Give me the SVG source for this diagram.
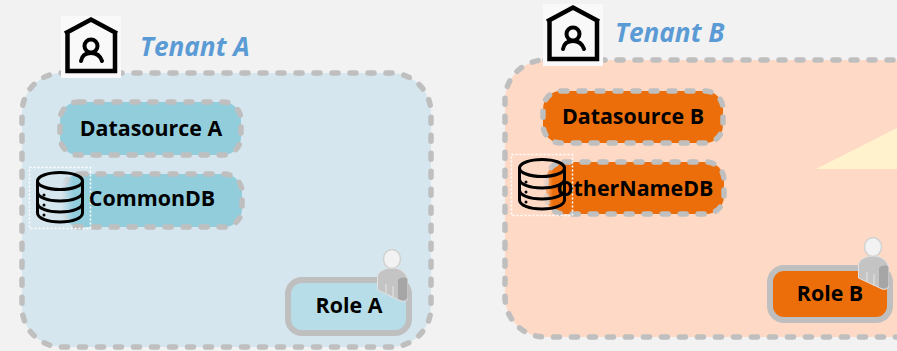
<svg xmlns="http://www.w3.org/2000/svg" width="897" height="351" viewBox="0 0 897 351">
<style>
.dash{stroke:#bfbfbf;stroke-width:5.500;stroke-dasharray:6 12;stroke-linecap:round}
.lbl{font-family:"Open Sans","Liberation Sans",sans-serif;font-weight:700;font-size:21.400px;fill:#000;text-anchor:middle}
.ten{font-family:"Open Sans","Liberation Sans",sans-serif;font-weight:700;font-style:italic;font-size:26.200px;fill:#5b9bd5}
.ic{fill:none;stroke:#000;stroke-linecap:round;stroke-linejoin:round}
.role{stroke:#bfbfbf;stroke-width:6}
</style>
<defs>
<linearGradient id="fadeA"><stop offset=".52" stop-color="#d5e6ee"/><stop offset=".72" stop-color="#d5e6ee" stop-opacity="0"/></linearGradient>
<linearGradient id="fadeB"><stop offset=".5" stop-color="#fedac6"/><stop offset=".68" stop-color="#fedac6" stop-opacity="0"/></linearGradient>
<g id="house">
<rect x="0" y="0" width="60" height="62" fill="#f9f9f9"/>
<path d="M4 17.500 L30 3.500 L56 17.500 M6.500 16 V55 H54 V16" fill="none" stroke="#000" stroke-width="4.500"/>
<circle class="ic" cx="30" cy="30" r="6.500" stroke-width="4"/>
<path class="ic" stroke-width="4" d="M20 45 C21 39 25 37 30 37 C35 37 39 39 41 45"/>
</g>
<g id="db">
<rect x="0.500" y="0.500" width="61" height="61" fill="none" stroke="#fff" stroke-width="1.500" stroke-dasharray="2 2"/>
<g class="ic" stroke-width="3">
<ellipse cx="31" cy="14" rx="22.500" ry="8.500"/>
<path d="M8.500 14 V46 C8.500 51 18 55 31 55 C44 55 53.500 51 53.500 46 V14"/>
<path d="M8.500 25 C8.500 30 18 34 31 34 C44 34 53.500 30 53.500 25"/>
<path d="M8.500 36 C8.500 41 18 45 31 45 C44 45 53.500 41 53.500 36"/>
</g>
<circle cx="15" cy="28" r="1.500"/><circle cx="15" cy="38" r="1.500"/><circle cx="15" cy="48" r="1.500"/>
</g>
<g id="user">
<ellipse cx="15" cy="9" rx="8.500" ry="9.500" fill="#f2f2f2" stroke="#d2d2d2" stroke-width="1.500"/>
<path d="M0.500 26 C2 21 8 18 15 18 C23 18 28 22 30.500 28 V48 C30.500 51 27 52 24 51 L0.500 40 Z" fill="#c4c4c4" stroke="#e2e2e2" stroke-width="1"/>
<path d="M21 30 C24 27 28 27 30.500 29 V48 C29 51 25 51 21 49 Z" fill="#a6a6a6"/>
<path d="M9 34 V44 M16 36 V48" stroke="#dadada" stroke-width="1.500"/>
</g>
</defs>
<rect width="897" height="351" fill="#f2f2f2"/>
<g id="connectors"/>
<g id="tenant-a">
<rect class="dash" x="22" y="73" width="409" height="274" rx="40" fill="#d5e6ee"/>
</g>
<g id="tenant-b">
<rect class="dash" x="505" y="60" width="430" height="277" rx="40" fill="#fedac6"/>
<path d="M816 169 L897 128 V169 Z" fill="#fff2cc"/>
</g>
<g id="tenant-a-label">
<use href="#house" x="61" y="16"/>
<text class="ten" x="140" y="56">Tenant A</text>
</g>
<g id="tenant-b-label">
<use href="#house" x="543" y="4"/>
<text class="ten" x="615" y="42">Tenant B</text>
</g>
<g id="datasource-a">
<rect class="dash" x="60" y="102" width="181" height="53" rx="18" fill="#92cddc"/>
<text class="lbl" x="151" y="136">Datasource A</text>
</g>
<g id="commondb">
<rect class="dash" x="62" y="174" width="180" height="53" rx="18" fill="#92cddc"/>
<rect x="29" y="167" width="62" height="62" fill="url(#fadeA)"/>
<use href="#db" x="29" y="167"/>
<text class="lbl" x="152" y="206">CommonDB</text>
</g>
<g id="role-a">
<rect class="role" x="288" y="280" width="121" height="53" rx="14" fill="#b7dde8"/>
<text class="lbl" x="349" y="313">Role A</text>
<use href="#user" x="377" y="250"/>
</g>
<g id="datasource-b">
<rect class="dash" x="543" y="91" width="180" height="52" rx="18" fill="#ec6e0b"/>
<text class="lbl" x="633" y="124">Datasource B</text>
</g>
<g id="othernamedb">
<rect class="dash" x="546" y="162" width="178" height="52" rx="18" fill="#ec6e0b"/>
<rect x="511" y="154" width="62" height="62" fill="url(#fadeB)"/>
<use href="#db" x="511" y="154"/>
<text class="lbl" x="635" y="196">OtherNameDB</text>
</g>
<g id="role-b">
<rect class="role" x="770" y="268" width="120" height="52" rx="14" fill="#ec6e0b"/>
<text class="lbl" x="830" y="301">Role B</text>
<use href="#user" x="858" y="238"/>
</g>
</svg>
